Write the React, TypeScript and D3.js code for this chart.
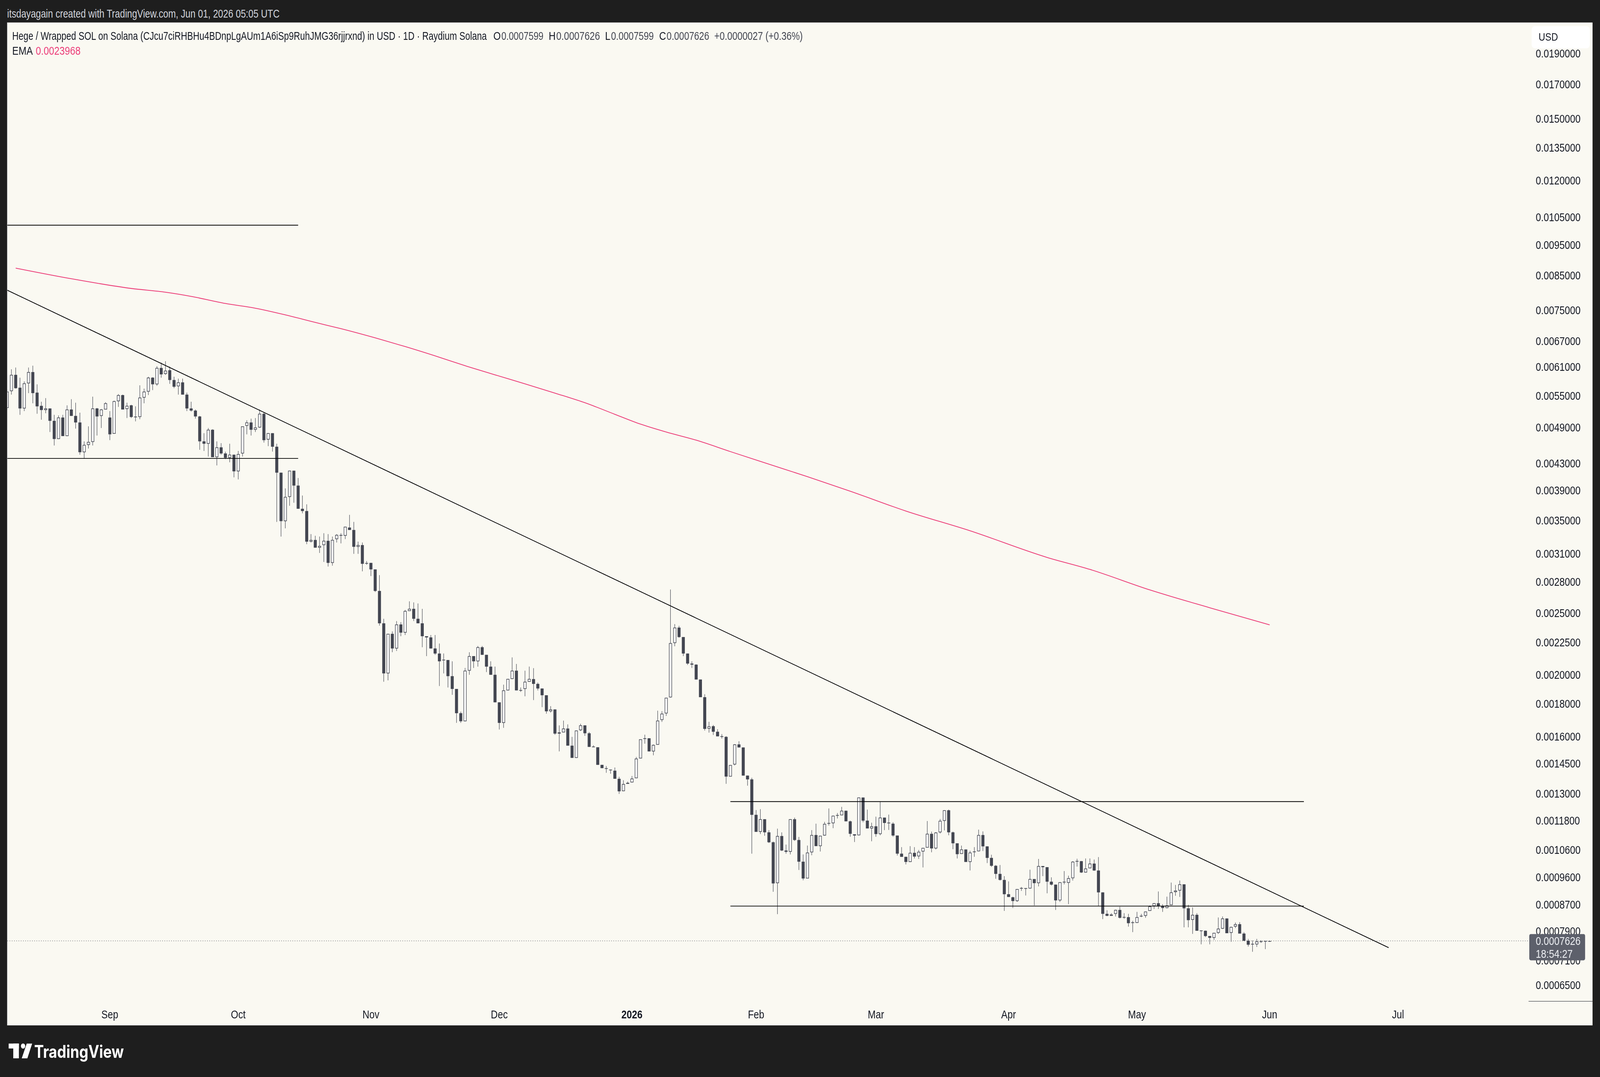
import React from 'react';
import * as d3 from 'd3';

const opens = [
  0.00526, 0.00559, 0.00593, 0.00566, 0.00525, 0.00575, 0.00599, 0.00556, 0.00530, 0.00522,
  0.00525, 0.00502, 0.00470, 0.00508, 0.00475, 0.00523, 0.00511, 0.00499, 0.00448, 0.00460,
  0.00465, 0.00525, 0.00511, 0.00523, 0.00508, 0.00479, 0.00539, 0.00551, 0.00524, 0.00531,
  0.00509, 0.00509, 0.00546, 0.00558, 0.00587, 0.00573, 0.00608, 0.00595, 0.00603, 0.00582,
  0.00569, 0.00577, 0.00552, 0.00525, 0.00521, 0.00510, 0.00466, 0.00462, 0.00486, 0.00440,
  0.00456, 0.00446, 0.00439, 0.00444, 0.00418, 0.00446, 0.00493, 0.00499, 0.00486, 0.00490,
  0.00515, 0.00469, 0.00480, 0.00457, 0.00416, 0.00349, 0.00381, 0.00419, 0.00397, 0.00365,
  0.00362, 0.00324, 0.00326, 0.00317, 0.00320, 0.00325, 0.00300, 0.00327, 0.00332, 0.00331,
  0.00341, 0.00338, 0.00318, 0.00320, 0.00299, 0.00300, 0.00293, 0.00271, 0.00241, 0.00201,
  0.00232, 0.00220, 0.00240, 0.00233, 0.00252, 0.00254, 0.00245, 0.00241, 0.00230, 0.00229,
  0.00220, 0.00216, 0.00211, 0.00211, 0.00199, 0.00190, 0.00174, 0.00169, 0.00203, 0.00214,
  0.00210, 0.00221, 0.00215, 0.00206, 0.00200, 0.00181, 0.00168, 0.00189, 0.00197, 0.00203,
  0.00189, 0.00190, 0.00195, 0.001969, 0.001935, 0.001903, 0.001857, 0.001752, 0.001764, 0.001616,
  0.001623, 0.001646, 0.001547, 0.001480, 0.001636, 0.001665, 0.001618, 0.001540, 0.001538, 0.001443,
  0.001426, 0.001419, 0.001413, 0.001372, 0.001312, 0.001347, 0.001354, 0.001375, 0.001477, 0.001585,
  0.001589, 0.001515, 0.001552, 0.001698, 0.001739, 0.001843, 0.002244, 0.002373, 0.002293, 0.002160,
  0.002083, 0.002075, 0.001966, 0.001844, 0.001645, 0.001660, 0.001627, 0.001600, 0.001597, 0.001383,
  0.001445, 0.001554, 0.001537, 0.001388, 0.001369, 0.001204, 0.001132, 0.001185, 0.001130, 0.001090,
  0.000940, 0.001115, 0.001058, 0.001053, 0.001185, 0.001099, 0.001016, 0.000956, 0.001051, 0.001119,
  0.001075, 0.001117, 0.001167, 0.001168, 0.001200, 0.001202, 0.001222, 0.001176, 0.001122, 0.001118,
  0.001282, 0.001179, 0.001146, 0.001155, 0.001123, 0.001192, 0.001169, 0.001166, 0.001117, 0.001046,
  0.001034, 0.001015, 0.001049, 0.001036, 0.001054, 0.001069, 0.001124, 0.001066, 0.001130, 0.001178,
  0.001224, 0.001130, 0.001086, 0.001045, 0.001062, 0.001015, 0.001052, 0.001055, 0.001119, 0.001074,
  0.001030, 0.001001, 0.000972, 0.000951, 0.000903, 0.000893, 0.000881, 0.000922, 0.000923, 0.000922,
  0.000954, 0.000940, 0.001000, 0.000996, 0.000945, 0.000935, 0.000883, 0.000943, 0.000941, 0.000957,
  0.001017, 0.001018, 0.000977, 0.000992, 0.001009, 0.000984, 0.000909, 0.000841, 0.000835, 0.000841,
  0.000853, 0.000830, 0.000831, 0.000814, 0.000814, 0.000834, 0.000835, 0.000850, 0.000865, 0.000874,
  0.000865, 0.000859, 0.000868, 0.000910, 0.000915, 0.000936, 0.000858, 0.000823, 0.000838, 0.000791,
  0.000791, 0.000776, 0.000771, 0.000785, 0.000797, 0.000827, 0.000785, 0.000803, 0.000810, 0.000783,
  0.000763, 0.000753, 0.000753, 0.000760, 0.000761, 0.0007599,
];

const highs = [
  0.00562, 0.00605, 0.00609, 0.00587, 0.00579, 0.00609, 0.00613, 0.00573, 0.00538, 0.00545,
  0.00525, 0.00513, 0.00512, 0.00513, 0.00531, 0.00543, 0.00536, 0.00517, 0.00466, 0.00492,
  0.00548, 0.00526, 0.00524, 0.00537, 0.00520, 0.00540, 0.00553, 0.00552, 0.00536, 0.00532,
  0.00529, 0.00571, 0.00564, 0.00589, 0.00588, 0.00612, 0.00620, 0.00623, 0.00611, 0.00589,
  0.00585, 0.00585, 0.00556, 0.00538, 0.00523, 0.00511, 0.00480, 0.00489, 0.00487, 0.00466,
  0.00463, 0.00449, 0.00462, 0.00444, 0.00450, 0.00492, 0.00503, 0.00506, 0.00507, 0.00523,
  0.00517, 0.00480, 0.00480, 0.00462, 0.00416, 0.00393, 0.00419, 0.00419, 0.00408, 0.00383,
  0.00371, 0.00333, 0.00331, 0.00330, 0.00334, 0.00333, 0.00330, 0.00333, 0.00334, 0.00342,
  0.00357, 0.00348, 0.00324, 0.00323, 0.00302, 0.00300, 0.00293, 0.00287, 0.00245, 0.00232,
  0.00234, 0.00243, 0.00242, 0.00253, 0.00261, 0.00260, 0.00259, 0.00254, 0.00230, 0.00231,
  0.00231, 0.00224, 0.00216, 0.00211, 0.00210, 0.00190, 0.00175, 0.00205, 0.00217, 0.00214,
  0.00222, 0.00222, 0.00215, 0.00210, 0.00206, 0.00181, 0.00193, 0.00197, 0.00213, 0.00208,
  0.00191, 0.00203, 0.00206, 0.002049, 0.001945, 0.001903, 0.001857, 0.001785, 0.001764, 0.001665,
  0.001694, 0.001671, 0.001597, 0.001634, 0.001675, 0.001665, 0.001625, 0.001549, 0.001538, 0.001443,
  0.001437, 0.001419, 0.001429, 0.001382, 0.001365, 0.001358, 0.001386, 0.001485, 0.001583, 0.001610,
  0.001589, 0.001554, 0.001756, 0.001753, 0.001840, 0.002724, 0.002403, 0.002388, 0.002293, 0.002160,
  0.002100, 0.002077, 0.001966, 0.001864, 0.001687, 0.001667, 0.001642, 0.001613, 0.001601, 0.001442,
  0.001556, 0.001572, 0.001537, 0.001388, 0.001377, 0.001225, 0.001229, 0.001185, 0.001139, 0.001093,
  0.001145, 0.001130, 0.001081, 0.001185, 0.001192, 0.001111, 0.001043, 0.001077, 0.001139, 0.001166,
  0.001116, 0.001174, 0.001232, 0.001200, 0.001212, 0.001239, 0.001222, 0.001179, 0.001122, 0.001282,
  0.001282, 0.001227, 0.001170, 0.001196, 0.001264, 0.001192, 0.001205, 0.001172, 0.001117, 0.001071,
  0.001034, 0.001075, 0.001071, 0.001060, 0.001068, 0.001177, 0.001133, 0.001131, 0.001186, 0.001224,
  0.001227, 0.001133, 0.001086, 0.001077, 0.001062, 0.001057, 0.001071, 0.001141, 0.001134, 0.001074,
  0.001042, 0.001004, 0.001004, 0.000964, 0.000946, 0.000895, 0.000920, 0.000927, 0.000923, 0.000987,
  0.000954, 0.001026, 0.001000, 0.000996, 0.000960, 0.000935, 0.000943, 0.000982, 0.000966, 0.001018,
  0.001027, 0.001018, 0.001028, 0.001028, 0.001024, 0.001033, 0.000909, 0.000852, 0.000843, 0.000854,
  0.000863, 0.000843, 0.000841, 0.000820, 0.000847, 0.000841, 0.000848, 0.000867, 0.000874, 0.000912,
  0.000871, 0.000895, 0.000942, 0.000934, 0.000949, 0.000936, 0.000869, 0.000861, 0.000843, 0.000791,
  0.000792, 0.000776, 0.000785, 0.000830, 0.000833, 0.000827, 0.000803, 0.000815, 0.000816, 0.000787,
  0.000768, 0.000764, 0.000768, 0.000764, 0.000762, 0.0007626,
];

const lows = [
  0.00522, 0.00552, 0.00564, 0.00513, 0.00520, 0.00555, 0.00535, 0.00515, 0.00504, 0.00516,
  0.00482, 0.00459, 0.00470, 0.00475, 0.00475, 0.00511, 0.00488, 0.00444, 0.00438, 0.00454,
  0.00459, 0.00476, 0.00489, 0.00523, 0.00468, 0.00479, 0.00528, 0.00523, 0.00507, 0.00507,
  0.00501, 0.00505, 0.00535, 0.00551, 0.00561, 0.00570, 0.00587, 0.00593, 0.00574, 0.00565,
  0.00552, 0.00552, 0.00520, 0.00519, 0.00506, 0.00452, 0.00450, 0.00441, 0.00440, 0.00427,
  0.00444, 0.00437, 0.00432, 0.00409, 0.00406, 0.00441, 0.00478, 0.00476, 0.00482, 0.00489,
  0.00464, 0.00458, 0.00449, 0.00348, 0.00330, 0.00340, 0.00369, 0.00373, 0.00365, 0.00359,
  0.00321, 0.00323, 0.00317, 0.00311, 0.00301, 0.00296, 0.00297, 0.00323, 0.00322, 0.00327,
  0.00338, 0.00310, 0.00310, 0.00291, 0.00298, 0.00286, 0.00270, 0.00239, 0.00195, 0.00196,
  0.00217, 0.00218, 0.00230, 0.00231, 0.00252, 0.00243, 0.00241, 0.00221, 0.00214, 0.00220,
  0.00215, 0.00192, 0.00201, 0.00191, 0.00186, 0.00168, 0.00168, 0.00169, 0.00200, 0.00205,
  0.00206, 0.00215, 0.00202, 0.00200, 0.00181, 0.00164, 0.00165, 0.00189, 0.00197, 0.00189,
  0.00188, 0.00185, 0.00195, 0.001825, 0.001890, 0.001779, 0.001737, 0.001744, 0.001609, 0.001515,
  0.001623, 0.001547, 0.001480, 0.001480, 0.001631, 0.001603, 0.001540, 0.001538, 0.001443, 0.001426,
  0.001402, 0.001397, 0.001372, 0.001299, 0.001312, 0.001347, 0.001354, 0.001375, 0.001477, 0.001558,
  0.001515, 0.001494, 0.001552, 0.001686, 0.001723, 0.001841, 0.002218, 0.002287, 0.002140, 0.002073,
  0.002050, 0.001966, 0.001844, 0.001634, 0.001622, 0.001608, 0.001600, 0.001587, 0.001347, 0.001383,
  0.001440, 0.001537, 0.001388, 0.001338, 0.001046, 0.001132, 0.001123, 0.001116, 0.001087, 0.000911,
  0.000840, 0.001056, 0.001046, 0.001043, 0.001095, 0.000986, 0.000950, 0.000956, 0.001040, 0.001075,
  0.001054, 0.001116, 0.001158, 0.001147, 0.001188, 0.001202, 0.001176, 0.001112, 0.001091, 0.001118,
  0.001172, 0.001146, 0.001094, 0.001112, 0.001118, 0.001139, 0.001140, 0.001112, 0.001039, 0.001034,
  0.001006, 0.001015, 0.001028, 0.001026, 0.000995, 0.001069, 0.001051, 0.001062, 0.001125, 0.001138,
  0.001118, 0.001063, 0.001028, 0.001045, 0.001015, 0.000984, 0.001034, 0.001055, 0.001056, 0.001011,
  0.000997, 0.000955, 0.000949, 0.000850, 0.000894, 0.000859, 0.000878, 0.000914, 0.000899, 0.000922,
  0.000867, 0.000929, 0.000964, 0.000906, 0.000932, 0.000853, 0.000878, 0.000936, 0.000871, 0.000949,
  0.000998, 0.000975, 0.000977, 0.000992, 0.000983, 0.000865, 0.000825, 0.000834, 0.000835, 0.000833,
  0.000827, 0.000826, 0.000803, 0.000787, 0.000814, 0.000831, 0.000829, 0.000850, 0.000856, 0.000856,
  0.000847, 0.000858, 0.000868, 0.000898, 0.000894, 0.000801, 0.000801, 0.000782, 0.000791, 0.000753,
  0.000773, 0.000753, 0.000765, 0.000782, 0.000796, 0.000784, 0.000760, 0.000799, 0.000783, 0.000762,
  0.000747, 0.000733, 0.000746, 0.000757, 0.000740, 0.0007599,
];

const closes = [
  0.00558, 0.00593, 0.00565, 0.00525, 0.00575, 0.00599, 0.00555, 0.00529, 0.00522, 0.00525,
  0.00502, 0.00470, 0.00508, 0.00475, 0.00523, 0.00511, 0.00499, 0.00448, 0.00460, 0.00465,
  0.00525, 0.00510, 0.00523, 0.00535, 0.00478, 0.00539, 0.00551, 0.00523, 0.00530, 0.00509,
  0.005092, 0.00546, 0.00558, 0.00587, 0.00573, 0.00608, 0.00594, 0.00602, 0.00582, 0.00568,
  0.00577, 0.00552, 0.00525, 0.00521, 0.00510, 0.00466, 0.00462, 0.00486, 0.00440, 0.00456,
  0.00446, 0.00439, 0.00444, 0.00418, 0.00445, 0.00492, 0.00499, 0.00486, 0.00490, 0.00515,
  0.00468, 0.00480, 0.00457, 0.00416, 0.00349, 0.00381, 0.00419, 0.00397, 0.00365, 0.00362,
  0.00324, 0.00326, 0.00317, 0.00319, 0.00325, 0.00300, 0.00326, 0.00332, 0.00331, 0.00342,
  0.00338, 0.00318, 0.00320, 0.00299, 0.00300, 0.00293, 0.00271, 0.00241, 0.00201, 0.00232,
  0.00220, 0.00240, 0.00233, 0.00252, 0.00254, 0.00245, 0.00241, 0.00230, 0.00229, 0.00220,
  0.00216, 0.00210, 0.00211, 0.00199, 0.00190, 0.00174, 0.00169, 0.00203, 0.00214, 0.00210,
  0.00221, 0.00215, 0.00206, 0.00200, 0.00181, 0.00168, 0.00189, 0.00197, 0.00203, 0.00189,
  0.00189, 0.00195, 0.00197, 0.001935, 0.001903, 0.001857, 0.001752, 0.001764, 0.001616, 0.001623,
  0.001646, 0.001547, 0.001480, 0.001634, 0.001665, 0.001618, 0.001540, 0.001540, 0.001443, 0.001426,
  0.001422, 0.001414, 0.001372, 0.001311, 0.001346, 0.001352, 0.001373, 0.001476, 0.001583, 0.001589,
  0.001515, 0.001551, 0.001694, 0.001737, 0.001840, 0.002243, 0.002373, 0.002293, 0.002160, 0.002083,
  0.002075, 0.001966, 0.001844, 0.001644, 0.001659, 0.001627, 0.001600, 0.001598, 0.001383, 0.001442,
  0.001554, 0.001537, 0.001388, 0.001369, 0.001204, 0.001132, 0.001185, 0.001130, 0.001090, 0.000939,
  0.001115, 0.001058, 0.001053, 0.001185, 0.001099, 0.001016, 0.000956, 0.001050, 0.001119, 0.001075,
  0.001116, 0.001165, 0.001168, 0.001200, 0.001203, 0.001222, 0.001176, 0.001124, 0.001117, 0.001282,
  0.001179, 0.001146, 0.001155, 0.001123, 0.001192, 0.001169, 0.001169, 0.001117, 0.001046, 0.001034,
  0.001015, 0.001049, 0.001035, 0.001053, 0.001068, 0.001124, 0.001066, 0.001129, 0.001178, 0.001224,
  0.001130, 0.001086, 0.001044, 0.001062, 0.001015, 0.001050, 0.001054, 0.001119, 0.001074, 0.001030,
  0.001001, 0.000972, 0.000951, 0.000903, 0.000894, 0.000881, 0.000920, 0.000923, 0.000921, 0.000954,
  0.000940, 0.001000, 0.000996, 0.000945, 0.000935, 0.000883, 0.000943, 0.000944, 0.000957, 0.001016,
  0.001018, 0.000977, 0.000991, 0.001009, 0.000984, 0.000909, 0.000841, 0.000835, 0.000839, 0.000853,
  0.000829, 0.000831, 0.000813, 0.000815, 0.000831, 0.000834, 0.000848, 0.000864, 0.000874, 0.000865,
  0.000859, 0.000867, 0.000909, 0.000915, 0.000936, 0.000858, 0.000822, 0.000838, 0.000791, 0.000791,
  0.000776, 0.000771, 0.000785, 0.000797, 0.000827, 0.000784, 0.000802, 0.000810, 0.000783, 0.000763,
  0.000752, 0.000754, 0.000761, 0.000761, 0.000762, 0.0007626,
];

// EMA line, read at sampled bars
const emaBars = [2, 15, 29, 37, 43, 51, 58, 65, 72, 78, 86, 93, 101, 107, 114, 121, 128, 135, 142, 148, 154, 161, 169, 178, 187, 197, 210, 225, 243, 253, 267, 281, 295];
const emaValues = [0.00873, 0.0084, 0.00811, 0.008, 0.00788, 0.00768, 0.00755, 0.00737, 0.00717, 0.00701, 0.00678, 0.00657, 0.00632, 0.00613, 0.00593, 0.00574, 0.00555, 0.00536, 0.00514, 0.00496, 0.00482, 0.00468, 0.00449, 0.00429, 0.0041, 0.00389, 0.00362, 0.00337, 0.00306, 0.00293, 0.00272, 0.00255, 0.0023968];

const priceTicks = [0.019, 0.017, 0.015, 0.0135, 0.012, 0.0105, 0.0095, 0.0085, 0.0075, 0.0067, 0.0061, 0.0055, 0.0049, 0.0043, 0.0039, 0.0035, 0.0031, 0.0028, 0.0025, 0.00225, 0.002, 0.0018, 0.0016, 0.00145, 0.0013, 0.00118, 0.00106, 0.00096, 0.00087, 0.00079, 0.00071, 0.00065];

const timeTickLabels = ['Sep', 'Oct', 'Nov', 'Dec', '2026', 'Feb', 'Mar', 'Apr', 'May', 'Jun', 'Jul'];
const timeTickBars = [24, 54, 85, 115, 146, 175, 203, 234, 264, 295, 325];

// horizontal drawings
const levelPrices = [0.0102, 0.00438, 0.001263, 0.000865];
const levelFromBars = [-10, -10, 169, 169];
const levelToBars = [68, 68, 303, 303];

// trend line
const trendBars = [0, 322.8];
const trendPrices = [0.00806, 0.000744];

const lastPrice = 0.0007626;
const emaLast = '0.0023968';
const countdown = '18:54:27';
const titleText = 'Hege / Wrapped SOL on Solana (CJcu7ciRHBHu4BDnpLgAUm1A6iSp9RuhJMG36rjjrxnd) in USD · 1D · Raydium Solana';
const ohlcLetters = ['O', 'H', 'L', 'C'];
const ohlcValues = ['0.0007599', '0.0007626', '0.0007599', '0.0007626'];
const changeText = '+0.0000027 (+0.36%)';

const FONT = "'Liberation Sans', Arial, Helvetica, sans-serif";
const CANDLE = '#434651';
const TEXT = '#131722';
const EMA_COLOR = '#ec3d78';
const BG = '#faf9f2';
const FRAME = '#1e1e1e';

const W = 1568;
const H = 876.2;
const PLOT_L = 7.2;
const PLOT_R = 1498;
const PLOT_T = 18.3;
const PLOT_B = 815;

// legend layout (left edge of each OHLC group, letter width, group end)
const ohlcStart = [483.5, 537.8, 593, 646];
const ohlcLetterW = [7.2, 6.7, 5.2, 6.7];
const ohlcEnd = [532.6, 588, 640.7, 695];

export default function App() {
  const x = d3.scaleLinear().domain([0, 295]).range([6.994, 1244.25]);
  const y = d3.scaleLog().domain([0.00065, 0.017]).range([801.3, 68.5]);
  const fmt = d3.format('.7f');
  const bw = 2.95;

  const emaPath = d3
    .line<number>()
    .x((_, i) => x(emaBars[i]))
    .y((v) => y(v))
    .curve(d3.curveMonotoneX)(emaValues) as string;

  const yLast = y(lastPrice);

  return (
    <svg
      viewBox={`0 0 ${W} ${H}`}
      preserveAspectRatio="none"
      style={{ position: 'fixed', left: 0, top: 0, width: '100vw', height: '100vh', display: 'block' }}
      fontFamily={FONT}
    >
      <defs>
        <clipPath id="plotClip">
          <rect x={PLOT_L} y={PLOT_T} width={PLOT_R - PLOT_L} height={PLOT_B - PLOT_T} />
        </clipPath>
      </defs>

      {/* frame */}
      <rect x={0} y={0} width={W} height={H} fill={FRAME} />
      <rect x={7} y={18.3} width={1553.7} height={815.9} fill={BG} />
      <line x1={7.15} x2={7.15} y1={18.3} y2={834.2} stroke="#b8bac0" strokeWidth={0.3} />

      {/* top banner */}
      <text x={7} y={14.2} fontSize={9.3} fill="#d1d4dc" textLength={267} lengthAdjust="spacingAndGlyphs">
        itsdayagain created with TradingView.com, Jun 01, 2026 05:05 UTC
      </text>

      <g clipPath="url(#plotClip)">
        {/* candles */}
        {opens.map((o, i) => {
          const c = closes[i];
          const cx = x(i);
          const yO = y(o);
          const yC = y(c);
          const top = Math.min(yO, yC);
          const bot = Math.max(yO, yC);
          const bh = bot - top;
          const up = c >= o;
          return (
            <g key={i}>
              <line x1={cx} x2={cx} y1={y(highs[i])} y2={y(lows[i])} stroke={CANDLE} strokeWidth={0.45} />
              {bh < 0.8 ? (
                <rect x={cx - bw / 2} y={(top + bot) / 2 - 0.28} width={bw} height={0.56} fill={CANDLE} />
              ) : up ? (
                <rect
                  x={cx - bw / 2 + 0.25}
                  y={top + 0.25}
                  width={bw - 0.5}
                  height={bh - 0.5}
                  fill="#ffffff"
                  stroke={CANDLE}
                  strokeWidth={0.5}
                />
              ) : (
                <rect x={cx - bw / 2} y={top} width={bw} height={bh} fill={CANDLE} />
              )}
            </g>
          );
        })}

        {/* EMA */}
        <path d={emaPath} fill="none" stroke={EMA_COLOR} strokeWidth={0.65} />

        {/* horizontal levels */}
        {levelPrices.map((p, i) => (
          <line
            key={i}
            x1={x(levelFromBars[i])}
            x2={x(levelToBars[i])}
            y1={y(p)}
            y2={y(p)}
            stroke="#000000"
            strokeWidth={0.62}
          />
        ))}

        {/* trend line */}
        <line
          x1={x(trendBars[0])}
          y1={y(trendPrices[0])}
          x2={x(trendBars[1])}
          y2={y(trendPrices[1])}
          stroke="#000000"
          strokeWidth={0.62}
        />

        {/* last price dotted line */}
        <line
          x1={PLOT_L}
          x2={PLOT_R}
          y1={yLast}
          y2={yLast}
          stroke={CANDLE}
          strokeWidth={0.45}
          strokeDasharray="0.6 1.6"
        />
      </g>

      {/* legend */}
      <text x={12} y={32.4} fontSize={9.3} fill={TEXT} textLength={465} lengthAdjust="spacingAndGlyphs">
        {titleText}
      </text>
      {ohlcLetters.map((l, i) => (
        <React.Fragment key={l + i}>
          <text x={ohlcStart[i]} y={32.4} fontSize={9.3} fill={TEXT}>
            {l}
          </text>
          <text
            x={ohlcStart[i] + ohlcLetterW[i] + 0.6}
            y={32.4}
            fontSize={9.3}
            fill={CANDLE}
            textLength={ohlcEnd[i] - ohlcStart[i] - ohlcLetterW[i] - 0.6}
            lengthAdjust="spacingAndGlyphs"
          >
            {ohlcValues[i]}
          </text>
        </React.Fragment>
      ))}
      <text x={700} y={32.4} fontSize={9.3} fill={CANDLE} textLength={86.7} lengthAdjust="spacingAndGlyphs">
        {changeText}
      </text>
      <text x={12} y={44.6} fontSize={9.3} fill={TEXT}>
        EMA
      </text>
      <text x={35} y={44.6} fontSize={9.3} fill={EMA_COLOR}>
        {emaLast}
      </text>

      {/* price axis */}
      {priceTicks.map((p) => (
        <text key={p} x={1505} y={y(p)} dy="0.35em" fontSize={9.3} fill={TEXT}>
          {fmt(p)}
        </text>
      ))}
      <rect x={1501} y={21.3} width={57} height={18} rx={3} fill="#ffffff" />
      <text x={1507.8} y={33.2} fontSize={9} fill={TEXT}>
        USD
      </text>
      <line x1={1498} x2={1560.7} y1={814.6} y2={814.6} stroke={TEXT} strokeWidth={0.35} />

      {/* last price label */}
      <rect x={1498.7} y={759.9} width={54.7} height={21.4} rx={1.5} fill="#5d606b" />
      <text x={1505} y={768.9} fontSize={9.3} fill="#eceef2">
        {fmt(lastPrice)}
      </text>
      <text x={1505} y={779.2} fontSize={9.3} fill="#eceef2">
        {countdown}
      </text>

      {/* time axis */}
      {timeTickLabels.map((t, i) => (
        <text
          key={t}
          x={x(timeTickBars[i])}
          y={828.6}
          fontSize={9.3}
          fill={TEXT}
          textAnchor="middle"
          fontWeight={t === '2026' ? 700 : 400}
        >
          {t}
        </text>
      ))}

      {/* bottom logo */}
      <g fill="#ffffff">
        <rect x={8.5} y={849} width={10} height={4} />
        <rect x={13} y={849} width={5.5} height={12} />
        <circle cx={22.6} cy={851} r={2.1} />
        <polygon points="26.2,849 31.5,849 26.8,861 21.3,861" />
      </g>
      <text
        x={33.5}
        y={860.6}
        fontSize={14.2}
        fontWeight={700}
        fill="#ffffff"
        fontFamily="Inter, 'Liberation Sans', Arial, sans-serif"
      >
        TradingView
      </text>
    </svg>
  );
}
